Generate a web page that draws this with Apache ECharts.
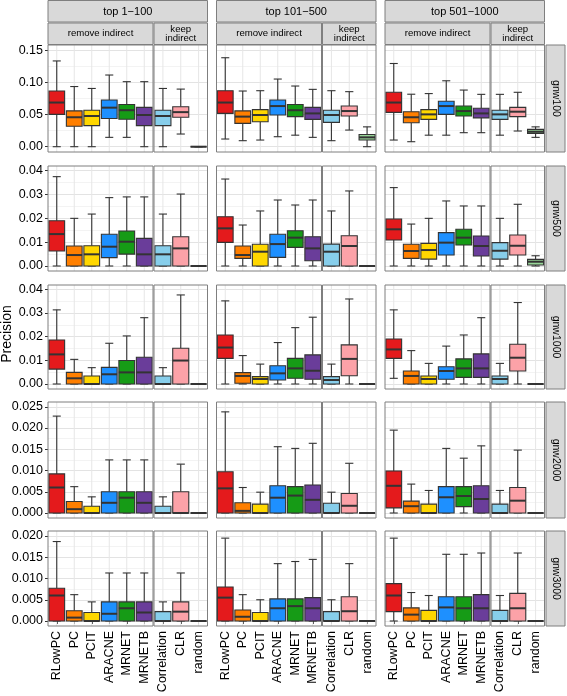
<!DOCTYPE html>
<html><head><meta charset="utf-8">
<script src="https://cdn.jsdelivr.net/npm/echarts@6/dist/echarts.min.js"></script>
<style>html,body{margin:0;padding:0;background:#fff}#c{width:567px;height:696px}</style>
</head><body><div id="c"></div>
<script>
const categories = ['RLowPC','PC','PCIT','ARACNE','MRNET','MRNETB','Correlation','CLR','random'];
const removeCats = categories.slice(0, 6);
const keepCats = categories.slice(6);
const colLabels = ['top 1\u2212100', 'top 101\u2212500', 'top 501\u22121000'];
const rowLabels = ['gnw100', 'gnw500', 'gnw1000', 'gnw2000', 'gnw3000'];
const colors = ['#e41a1c','#ff7f00','#ffd700','#1e90ff','#169b16','#6a3d9a','#87ceeb','#fca2a8','#98d598'];

// y tick values per row
const yTicks = [
  [0, 0.05, 0.10, 0.15],
  [0, 0.01, 0.02, 0.03, 0.04],
  [0, 0.01, 0.02, 0.03, 0.04],
  [0, 0.005, 0.010, 0.015, 0.020, 0.025],
  [0, 0.005, 0.010, 0.015, 0.020]
];
const yDecimals = [2, 2, 2, 3, 3];
const yMaxValues = [0.1589, 0.04197, 0.0418, 0.02612, 0.02118];

// box stats: [lower whisker, Q1, median, Q3, upper whisker] per method
const gnw100_top1_100 = [
  [0, 0.0505, 0.069, 0.087, 0.134], [0, 0.032, 0.046, 0.056, 0.094], [0, 0.033, 0.048, 0.057, 0.091],
  [0.0146, 0.044, 0.061, 0.073, 0.112], [0.0146, 0.043, 0.057, 0.066, 0.1016], [0, 0.033, 0.0495, 0.0615, 0.1016],
  [0, 0.033, 0.048, 0.057, 0.091], [0.0198, 0.046, 0.054, 0.0625, 0.090], [0, 0, 0, 0, 0]];
const gnw100_top101_500 = [
  [0.012, 0.052, 0.069, 0.0875, 0.139], [0.0094, 0.0365, 0.047, 0.056, 0.087], [0.0104, 0.039, 0.0495, 0.058, 0.0875],
  [0.0156, 0.0495, 0.0635, 0.073, 0.1057], [0.018, 0.047, 0.057, 0.066, 0.0948], [0.0146, 0.0427, 0.052, 0.0615, 0.0896],
  [0.0094, 0.038, 0.0495, 0.057, 0.0875], [0.026, 0.048, 0.0557, 0.0635, 0.086], [0, 0.0104, 0.0146, 0.019, 0.031]];
const gnw100_top501_1000 = [
  [0.0104, 0.0536, 0.069, 0.085, 0.130], [0.0078, 0.0375, 0.046, 0.0547, 0.082], [0.018, 0.0427, 0.0505, 0.058, 0.083],
  [0.018, 0.0505, 0.0635, 0.071, 0.103], [0.0219, 0.048, 0.0557, 0.0635, 0.0885], [0.0219, 0.045, 0.052, 0.060, 0.0818],
  [0.018, 0.0427, 0.0505, 0.057, 0.0818], [0.0245, 0.047, 0.0547, 0.0615, 0.085], [0.0146, 0.0208, 0.0234, 0.027, 0.031]];

const gnw500_top1_100 = [
  [0, 0.0063, 0.0134, 0.019, 0.0375], [0, 0, 0.0046, 0.0084, 0.020], [0, 0, 0.0049, 0.0085, 0.0218],
  [0, 0.0035, 0.0081, 0.0133, 0.0287], [0, 0.005, 0.0102, 0.0147, 0.029], [0, 0, 0.0049, 0.0116, 0.029],
  [0, 0, 0.0049, 0.0085, 0.0218], [0, 0, 0.0074, 0.0123, 0.0302], [0, 0, 0, 0, 0]];
const gnw500_top101_500 = [
  [0, 0.0099, 0.0158, 0.0207, 0.0365], [0, 0.0032, 0.0046, 0.0084, 0.0172], [0, 0, 0.006, 0.0091, 0.0231],
  [0, 0.0036, 0.0092, 0.0133, 0.0277], [0, 0.0078, 0.0119, 0.0148, 0.0256], [0, 0.0022, 0.0074, 0.0123, 0.0277],
  [0, 0, 0.006, 0.0092, 0.0231], [0, 0, 0.0084, 0.0127, 0.0315], [0, 0, 0, 0, 0]];
const gnw500_top501_1000 = [
  [0, 0.0109, 0.0154, 0.0197, 0.0329], [0, 0.0032, 0.0063, 0.0091, 0.0176], [0, 0.0029, 0.0067, 0.0095, 0.020],
  [0, 0.0046, 0.0098, 0.014, 0.0273], [0, 0.0088, 0.0119, 0.0154, 0.0252], [0, 0.0042, 0.0084, 0.0126, 0.0252],
  [0, 0.0029, 0.0064, 0.0098, 0.020], [0, 0.0046, 0.0085, 0.013, 0.0259], [0, 0.0004, 0.0018, 0.0028, 0.0043]];

const gnw1000_top1_100 = [
  [0, 0.0063, 0.0125, 0.0186, 0.0313], [0, 0, 0.0024, 0.0049, 0.0104], [0, 0, 0, 0.0034, 0.0069],
  [0, 0, 0.0041, 0.007, 0.0172], [0, 0, 0.0049, 0.0099, 0.0203], [0, 0, 0.0049, 0.0113, 0.028],
  [0, 0, 0, 0.0034, 0.0069], [0, 0, 0.0099, 0.0151, 0.0376], [0, 0, 0, 0, 0]];
const gnw1000_top101_500 = [
  [0, 0.0108, 0.0154, 0.0207, 0.0351], [0, 0.0003, 0.0034, 0.0048, 0.012], [0, 0, 0.0021, 0.0031, 0.0084],
  [0, 0.0017, 0.0045, 0.0077, 0.0175], [0, 0.0024, 0.0066, 0.0108, 0.0238], [0, 0.002, 0.0056, 0.0123, 0.0282],
  [0, 0, 0.0017, 0.0031, 0.0084], [0, 0.0035, 0.0106, 0.0165, 0.0359], [0, 0, 0, 0, 0]];
const gnw1000_top501_1000 = [
  [0.0024, 0.0108, 0.0146, 0.019, 0.0313], [0, 0, 0.0034, 0.0055, 0.0141], [0, 0, 0.0021, 0.0034, 0.0087],
  [0, 0.002, 0.0055, 0.0073, 0.016], [0, 0.0028, 0.0066, 0.0106, 0.0207], [0, 0.0028, 0.0066, 0.0127, 0.028],
  [0, 0, 0.0021, 0.0034, 0.0087], [0, 0.0055, 0.0111, 0.0168, 0.0344], [0, 0, 0, 0, 0]];

const gnw2000_top1_100 = [
  [0, 0, 0.006, 0.0092, 0.0228], [0, 0, 0.0009, 0.0027, 0.0062], [0, 0, 0, 0.0016, 0.0038],
  [0, 0, 0.0024, 0.005, 0.0125], [0, 0, 0.0036, 0.005, 0.0125], [0, 0, 0.0024, 0.005, 0.0125],
  [0, 0, 0, 0.0016, 0.0038], [0, 0, 0, 0.005, 0.0115], [0, 0, 0, 0, 0]];
const gnw2000_top101_500 = [
  [0, 0, 0.0058, 0.0097, 0.0238], [0, 0, 0.0005, 0.0024, 0.006], [0, 0, 0, 0.0021, 0.0049],
  [0, 0, 0.0036, 0.0064, 0.0156], [0, 0, 0.0041, 0.0062, 0.0152], [0, 0, 0.0031, 0.0066, 0.0164],
  [0, 0, 0, 0.0023, 0.0049], [0, 0, 0.0017, 0.0046, 0.0117], [0, 0, 0, 0, 0]];
const gnw2000_top501_1000 = [
  [0, 0.0012, 0.0064, 0.0099, 0.0195], [0, 0, 0.0016, 0.0028, 0.0068], [0, 0, 0, 0.0021, 0.0053],
  [0, 0, 0.0037, 0.0062, 0.0152], [0, 0.0015, 0.004, 0.0062, 0.0129], [0, 0, 0.0033, 0.0064, 0.0158],
  [0, 0, 0, 0.0021, 0.0053], [0, 0, 0.0029, 0.006, 0.0148], [0, 0, 0, 0, 0]];

const gnw3000_top1_100 = [
  [0, 0, 0.006, 0.0077, 0.0187], [0, 0, 0.0008, 0.0024, 0.0062], [0, 0, 0, 0.002, 0.0045],
  [0, 0, 0.0017, 0.0045, 0.0113], [0, 0, 0.003, 0.0045, 0.0113], [0, 0, 0.002, 0.0045, 0.0113],
  [0, 0, 0, 0.0022, 0.0045], [0, 0, 0.0022, 0.0045, 0.0113], [0, 0, 0, 0, 0]];
const gnw3000_top101_500 = [
  [0, 0, 0.0055, 0.008, 0.0195], [0, 0, 0.001, 0.0026, 0.0062], [0, 0, 0, 0.002, 0.005],
  [0, 0, 0.003, 0.0052, 0.0135], [0, 0, 0.0035, 0.0052, 0.014], [0, 0, 0.003, 0.0055, 0.0145],
  [0, 0, 0, 0.0022, 0.005], [0, 0, 0.0023, 0.0057, 0.0135], [0, 0, 0, 0, 0]];
const gnw3000_top501_1000 = [
  [0, 0.0022, 0.006, 0.0088, 0.0195], [0, 0, 0.0015, 0.0031, 0.0067], [0, 0, 0, 0.0025, 0.006],
  [0, 0, 0.0032, 0.0057, 0.0157], [0, 0, 0.003, 0.0057, 0.0157], [0, 0, 0.003, 0.0062, 0.016],
  [0, 0, 0, 0.0025, 0.006], [0, 0, 0.003, 0.0065, 0.016], [0, 0, 0, 0, 0]];

const panelData = [
  [gnw100_top1_100, gnw100_top101_500, gnw100_top501_1000],
  [gnw500_top1_100, gnw500_top101_500, gnw500_top501_1000],
  [gnw1000_top1_100, gnw1000_top101_500, gnw1000_top501_1000],
  [gnw2000_top1_100, gnw2000_top101_500, gnw2000_top501_1000],
  [gnw3000_top1_100, gnw3000_top101_500, gnw3000_top501_1000]
];

// ---- layout (pixels) ----
const colLeft = [48, 216.5, 385];
const remW = 105, keepGap = 1, keepW = 53.5;
const panelW = remW + keepGap + keepW;
const rowTop = [45, 166, 285, 402, 531];
const rowZero = [146.7, 266, 384, 513, 621];
const rowBottom = [152, 271, 389, 518, 626];
const FONT = 'Liberation Sans, Arial, Helvetica, sans-serif';
const txt = '#000000';
const borderCol = '#7f7f7f';
const stripFill = '#d9d9d9';

const grids = [], xAxes = [], yAxes = [], series = [], graphics = [];

function makeRender(offset, ext) {
  return function (params, api) {
    const x = api.value(0);
    const v = [api.value(1), api.value(2), api.value(3), api.value(4), api.value(5)];
    const band = api.size([1, 0])[0];
    const cx = api.coord([x, 0])[0];
    const ys = v.map(val => api.coord([x, val])[1]);
    const bw = band * 0.9, cap = band * 0.46;
    const cs = params.coordSys;
    const col = colors[offset + x];
    const ls = { stroke: '#333333', lineWidth: 1.1 };
    return {
      type: 'group',
      children: [
        { type: 'line', shape: { x1: cx, y1: cs.y, x2: cx, y2: cs.y + cs.height + ext }, style: { stroke: '#e6e6e6', lineWidth: 1 } },
        { type: 'line', shape: { x1: cx, y1: ys[4], x2: cx, y2: ys[3] }, style: ls },
        { type: 'line', shape: { x1: cx, y1: ys[1], x2: cx, y2: ys[0] }, style: ls },
        { type: 'line', shape: { x1: cx - cap / 2, y1: ys[4], x2: cx + cap / 2, y2: ys[4] }, style: ls },
        { type: 'line', shape: { x1: cx - cap / 2, y1: ys[0], x2: cx + cap / 2, y2: ys[0] }, style: ls },
        { type: 'rect', shape: { x: cx - bw / 2, y: ys[3], width: bw, height: ys[1] - ys[3] }, style: { fill: col, stroke: '#333333', lineWidth: 1.1 } },
        { type: 'line', shape: { x1: cx - bw / 2, y1: ys[2], x2: cx + bw / 2, y2: ys[2] }, style: { stroke: '#333333', lineWidth: 2 } }
      ]
    };
  };
}

for (let r = 0; r < 5; r++) {
  for (let c = 0; c < 3; c++) {
    const data = panelData[r][c];
    const subs = [
      { cats: removeCats, left: colLeft[c], width: remW, offset: 0, rows: data.slice(0, 6) },
      { cats: keepCats, left: colLeft[c] + remW + keepGap, width: keepW, offset: 6, rows: data.slice(6) }
    ];
    subs.forEach((s, si) => {
      const idx = grids.length;
      const ext = rowBottom[r] - rowZero[r];
      grids.push({ left: s.left, top: rowTop[r], width: s.width, height: rowZero[r] - rowTop[r], show: false });
      const isBottom = r === 4;
      xAxes.push({
        type: 'category', gridIndex: idx, data: s.cats, boundaryGap: true, offset: ext,
        axisLine: { show: false },
        axisTick: { show: isBottom, length: 3, alignWithLabel: true, lineStyle: { color: '#333' } },
        axisLabel: { show: isBottom, rotate: 90, margin: 5, fontSize: 12.5, color: txt, fontFamily: FONT, interval: 0 },
        splitLine: { show: false }
      });
      const showY = c === 0 && si === 0;
      const step = yTicks[r][1];
      yAxes.push({
        type: 'value', gridIndex: idx, min: 0, max: yMaxValues[r], interval: step,
        axisLine: { show: false },
        axisTick: { show: showY, length: 3, lineStyle: { color: '#333' }, customValues: yTicks[r] },
        axisLabel: { show: showY, margin: 5, fontSize: 12.5, color: txt, fontFamily: FONT,
          customValues: yTicks[r], formatter: v => Number(v).toFixed(yDecimals[r]) },
        splitLine: { show: true, lineStyle: { color: '#e3e3e3', width: 1 } },
        minorTick: { show: false, splitNumber: 2 },
        minorSplitLine: { show: true, lineStyle: { color: '#f3f3f3', width: 1 } }
      });
      series.push({
        type: 'custom', xAxisIndex: idx, yAxisIndex: idx, silent: true, z: 3,
        renderItem: makeRender(s.offset, ext),
        data: s.rows.map((b, i) => [i, b[0], b[1], b[2], b[3], b[4]]),
        clip: false
      });
      graphics.push({ type: 'rect', shape: { x: s.left, y: rowTop[r], width: s.width, height: rowBottom[r] - rowTop[r] },
        style: { fill: 'none', stroke: borderCol, lineWidth: 1 }, z: 10, silent: true });
      if (r === 0) {
        graphics.push({ type: 'rect', shape: { x: s.left, y: 23, width: s.width, height: 21.5 },
          style: { fill: stripFill, stroke: borderCol, lineWidth: 1 }, silent: true });
        const label = si === 0 ? 'remove indirect' : 'keep\nindirect';
        graphics.push({ type: 'text', x: s.left + s.width / 2, y: 33.8, silent: true,
          style: { text: label, font: '9.6px ' + FONT, fill: txt, align: 'center', verticalAlign: 'middle',
            textAlign: 'center', textVerticalAlign: 'middle', lineHeight: 9.5 } });
      }
    });
  }
}

for (let c = 0; c < 3; c++) {
  graphics.push({ type: 'rect', shape: { x: colLeft[c], y: 0.5, width: panelW, height: 21.5 },
    style: { fill: stripFill, stroke: borderCol, lineWidth: 1 }, silent: true });
  graphics.push({ type: 'text', x: colLeft[c] + panelW / 2, y: 11.5, silent: true,
    style: { text: colLabels[c], font: '11px ' + FONT, fill: txt, align: 'center', verticalAlign: 'middle',
      textAlign: 'center', textVerticalAlign: 'middle' } });
}
for (let r = 0; r < 5; r++) {
  const h = rowBottom[r] - rowTop[r];
  graphics.push({ type: 'rect', shape: { x: 546, y: rowTop[r], width: 19, height: h },
    style: { fill: stripFill, stroke: borderCol, lineWidth: 1 }, silent: true });
  graphics.push({ type: 'text', x: 555.5, y: rowTop[r] + h / 2, rotation: -Math.PI / 2, silent: true,
    style: { text: rowLabels[r], font: '10.5px ' + FONT, fill: txt, align: 'center', verticalAlign: 'middle',
      textAlign: 'center', textVerticalAlign: 'middle' } });
}
graphics.push({ type: 'text', x: 7, y: 334, rotation: Math.PI / 2, silent: true,
  style: { text: 'Precision', font: '14px ' + FONT, fill: txt, align: 'center', verticalAlign: 'middle',
    textAlign: 'center', textVerticalAlign: 'middle' } });

const chart = echarts.init(document.getElementById('c'), null, { renderer: 'canvas' });
chart.setOption({
  animation: false,
  backgroundColor: '#ffffff',
  grid: grids, xAxis: xAxes, yAxis: yAxes, series: series,
  graphic: { elements: graphics }
});
</script>
</body></html>
